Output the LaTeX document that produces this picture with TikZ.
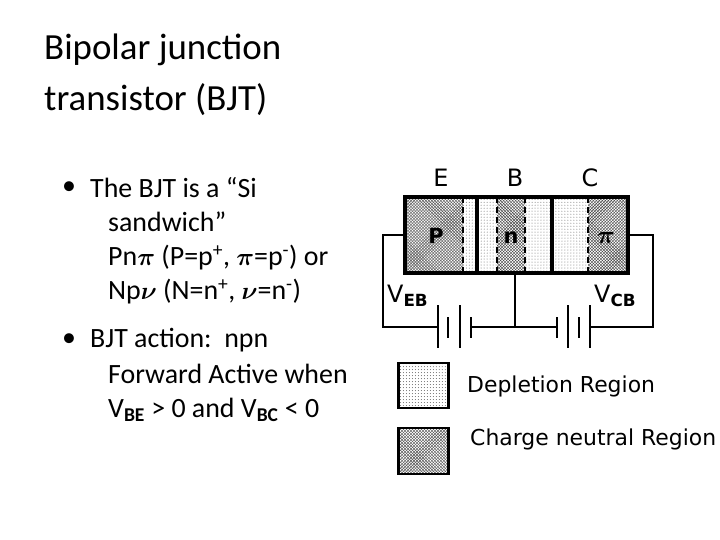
\documentclass[tikz,border=0pt]{standalone}
\usepackage{amsmath}
\usepackage{amssymb}
\usepackage{fontspec}
\setmainfont{Carlito}
\newfontfamily\lblfont{DejaVu Sans}
\usepackage{tikz}
\usetikzlibrary{patterns}
\tikzset{
  neutral/.style = {pattern = crosshatch, pattern color = black!70},
  depl/.style = {pattern = dots, pattern color = black!60},
  wire/.style = {line width = 2.2pt},
  tallplate/.style = {line width = 2.4pt},
  edge/.style = {line width = 2.2pt, dash pattern = on 6pt off 4pt},
  lbl/.style = {font = \lblfont\fontsize{22}{26}\selectfont, inner sep = 0pt},
  btext/.style = {anchor = west, font = \fontsize{28}{32}\selectfont, inner sep = 0pt},
}
\begin{document}
\begin{tikzpicture}[x=1bp, y=-1bp]
\useasboundingbox (0,0) rectangle (720,540);
% title and bullets
\node[anchor = west, font = \fontsize{37}{42}\selectfont, inner sep = 0pt] (t1) at (44,50) {Bipolar junction};
\node[anchor = west, font = \fontsize{37}{42}\selectfont, inner sep = 0pt] (t2) at (44,100) {transistor (BJT)};
\node[btext] (b1) at (62,188) {\textbullet};
\node[btext] (l1) at (90,188) {The BJT is a “Si};
\node[btext] (l2) at (108,222) {sandwich”};
\node[btext] (l3) at (108,258) {Pn$\boldsymbol\pi$ (P=p\textsuperscript{+}, $\boldsymbol\pi$=p\textsuperscript{-}) or};
\node[btext] (l4) at (108,292) {Np$\boldsymbol\nu$ (N=n\textsuperscript{+}, $\boldsymbol\nu$=n\textsuperscript{-})};
\node[btext] (b2) at (62,340) {\textbullet};
\node[btext] (l5) at (90,340) {BJT action:\ \ npn};
\node[btext] (l6) at (108,374) {Forward Active when};
\node[btext] (l7) at (108,410) {V\textsubscript{\textbf{BE}} > 0 and V\textsubscript{\textbf{BC}} < 0};
% regions
\fill[neutral] (405,197) rectangle (463,273);
\fill[depl] (463,197) rectangle (497,273);
\fill[neutral] (497,197) rectangle (525,273);
\fill[depl] (525,197) rectangle (588,273);
\fill[neutral] (588,197) rectangle (628,273);
\draw[edge] (463,197) -- (463,273);
\draw[edge] (497,197) -- (497,273);
\draw[edge] (525,197) -- (525,273);
\draw[edge] (588,197) -- (588,273);
\draw[line width = 3.5pt] (405,197) rectangle (628,273);
\draw[line width = 3.5pt] (477,197) -- (477,273);
\draw[line width = 3.5pt] (552,197) -- (552,273);
\node[lbl, font = \lblfont\bfseries\fontsize{21}{24}\selectfont] (p) at (436,236) {P};
\node[lbl, font = \lblfont\bfseries\fontsize{21}{24}\selectfont] (n) at (511,238) {n};
\node[lbl, font = \fontsize{26}{28}\selectfont] (pi) at (606,238) {$\boldsymbol\pi$};
\node[lbl, font = \lblfont\fontsize{24}{28}\selectfont] (e) at (441,178) {E};
\node[lbl, font = \lblfont\fontsize{24}{28}\selectfont] (b) at (515,178) {B};
\node[lbl, font = \lblfont\fontsize{24}{28}\selectfont] (c) at (590,178) {C};
% circuit
\coordinate (el) at (405,235);
\coordinate (cr) at (628,235);
\coordinate (bb) at (515,273);
\draw[wire] (el) -- (383,235) -- (383,327) -- (438,327);
\draw[wire] (471,327) -- (557,327);
\draw[wire] (bb) -- (515,327);
\draw[wire] (590,327) -- (653,327) -- (653,235) -- (cr);
\foreach \x in {438,460} \draw[tallplate] (\x,305) -- (\x,348);
\foreach \x in {448,471} \draw[tallplate] (\x,317) -- (\x,338);
\foreach \x in {568,590} \draw[tallplate] (\x,305) -- (\x,348);
\foreach \x in {557,579} \draw[tallplate] (\x,317) -- (\x,338);
\node[lbl, anchor = west, font = \lblfont\fontsize{24}{28}\selectfont] (veb) at (387,296) {V\textsubscript{\textbf{EB}}};
\node[lbl, anchor = west, font = \lblfont\fontsize{24}{28}\selectfont] (vcb) at (594,296) {V\textsubscript{\textbf{CB}}};
% legend
\fill[depl] (398,363) rectangle (448,408);
\draw[line width = 3pt] (398,363) rectangle (448,408);
\fill[neutral] (398,428) rectangle (448,474);
\draw[line width = 3pt] (398,428) rectangle (448,474);
\node[lbl, anchor = west] (dl) at (467,386) {Depletion Region};
\node[lbl, anchor = west] (cl) at (470,439) {Charge neutral Region};
\end{tikzpicture}
\end{document}
